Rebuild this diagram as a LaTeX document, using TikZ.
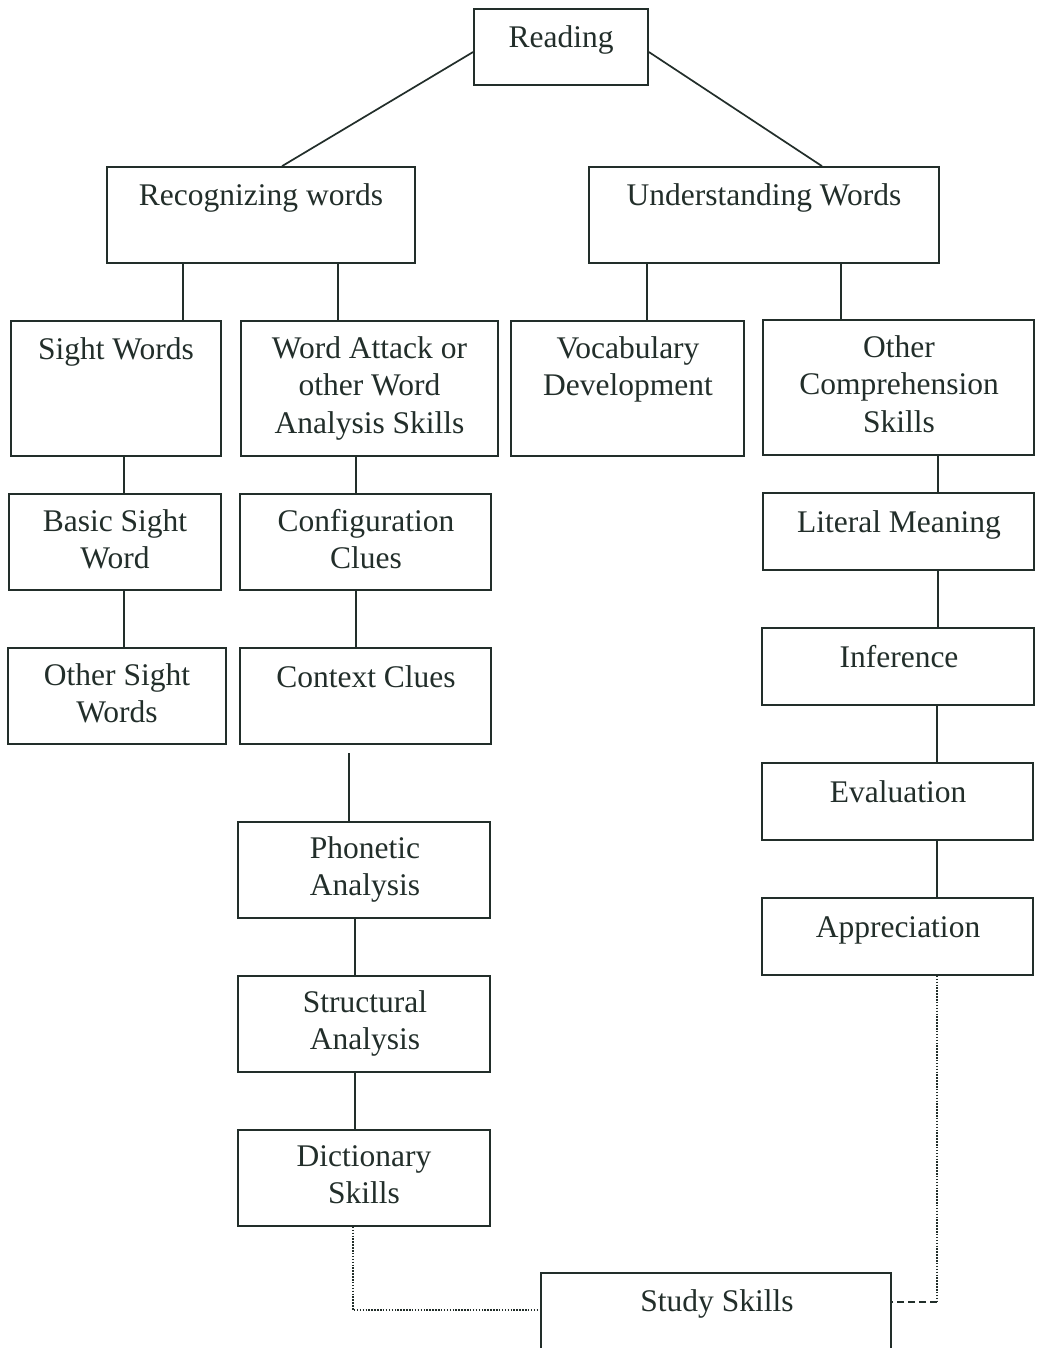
\documentclass[tikz,border=0pt]{standalone}
\usepackage{fontspec}
\setmainfont{Liberation Serif}
\newcommand\lblfont{\fontsize{31.5}{37.5}\selectfont}
\definecolor{ink}{HTML}{222E2A}
\begin{document}
\begin{tikzpicture}[x=1pt,y=-1pt,
  box/.style={draw=ink, line width=1.7pt, rectangle, inner sep=0pt},
  lbl/.style={anchor=north, inner sep=0pt, align=center, font=\lblfont, text=ink},
  conn/.style={draw=ink, line width=1.7pt},
  dotconn/.style={draw=ink, line width=1.6pt, dash pattern=on 1.5pt off 1.4pt},
  dashconn/.style={draw=ink, line width=1.7pt, dash pattern=on 7pt off 4pt}]
\useasboundingbox (0,0) rectangle (1037,1348);
\fill[white] (0,0) rectangle (1037,1348);

% boxes
\node[box, minimum width=174, minimum height=76] (read) at (561,47) {};
\node[box, minimum width=308, minimum height=96] (recw) at (261,215) {};
\node[box, minimum width=350, minimum height=96] (undw) at (764,215) {};
\node[box, minimum width=210, minimum height=135] (sight) at (116,388.5) {};
\node[box, minimum width=257, minimum height=135] (attack) at (369.5,388.5) {};
\node[box, minimum width=233, minimum height=135] (vocab) at (627.5,388.5) {};
\node[box, minimum width=271, minimum height=135] (ocomp) at (898.5,387.5) {};
\node[box, minimum width=212, minimum height=96] (basic) at (115,542) {};
\node[box, minimum width=251, minimum height=96] (config) at (365.5,542) {};
\node[box, minimum width=271, minimum height=77] (literal) at (898.5,531.5) {};
\node[box, minimum width=218, minimum height=96] (osight) at (117,696) {};
\node[box, minimum width=251, minimum height=96] (context) at (365.5,696) {};
\node[box, minimum width=272, minimum height=77] (infer) at (898,666.5) {};
\node[box, minimum width=271, minimum height=77] (eval) at (897.5,801.5) {};
\node[box, minimum width=252, minimum height=96] (phon) at (364,870) {};
\node[box, minimum width=271, minimum height=77] (appr) at (897.5,936.5) {};
\node[box, minimum width=252, minimum height=96] (struct) at (364,1024) {};
\node[box, minimum width=252, minimum height=96] (dict) at (364,1178) {};
\node[box, minimum width=350, minimum height=80] (study) at (716,1313) {};

% labels (north = first baseline - 26.25)
\node[lbl] (read-t) at (561,20.75) {\strut Reading};
\node[lbl] (recw-t) at (261,178.75) {\strut Recognizing words};
\node[lbl] (undw-t) at (764,178.75) {\strut Understanding Words};
\node[lbl] (sight-t) at (116,332.75) {\strut Sight Words};
\node[lbl] (attack-t) at (369.5,331.75) {\strut Word Attack or\\other Word\\Analysis Skills};
\node[lbl] (vocab-t) at (628,331.75) {\strut Vocabulary\\Development};
\node[lbl] (ocomp-t) at (899,330.75) {\strut Other\\Comprehension\\Skills};
\node[lbl] (basic-t) at (115,504.75) {\strut Basic Sight\\Word};
\node[lbl] (config-t) at (366,504.75) {\strut Configuration\\Clues};
\node[lbl] (literal-t) at (899,505.75) {\strut Literal Meaning};
\node[lbl] (osight-t) at (117,658.75) {\strut Other Sight\\Words};
\node[lbl] (context-t) at (366,660.75) {\strut Context Clues};
\node[lbl] (infer-t) at (899,640.75) {\strut Inference};
\node[lbl] (eval-t) at (898,775.75) {\strut Evaluation};
\node[lbl] (phon-t) at (365,831.75) {\strut Phonetic\\Analysis};
\node[lbl] (appr-t) at (898,910.75) {\strut Appreciation};
\node[lbl] (struct-t) at (365,985.75) {\strut Structural\\Analysis};
\node[lbl] (dict-t) at (364,1139.75) {\strut Dictionary\\Skills};
\node[lbl] (study-t) at (717,1284.75) {\strut Study Skills};

% x positions for vertical connectors
\coordinate (xa) at (183,0);
\coordinate (xb) at (338,0);
\coordinate (xc) at (647,0);
\coordinate (xd) at (841,0);
\coordinate (xe) at (124,0);
\coordinate (xf) at (356,0);
\coordinate (xg) at (355,0);
\coordinate (xh) at (938,0);
\coordinate (xi) at (937,0);
\coordinate (xj) at (353,0);
\coordinate (ctxstart) at (349,753);
\coordinate (cornA) at (937,1302);
\coordinate (cornD) at (353,1310);

% connectors
\draw[conn] ([yshift=-5pt]read.west) -- ([xshift=21pt]recw.north);
\draw[conn] ([yshift=-5pt]read.east) -- ([xshift=58pt]undw.north);
\draw[conn] (recw.south -| xa) -- (sight.north -| xa);
\draw[conn] (recw.south -| xb) -- (attack.north -| xb);
\draw[conn] (undw.south -| xc) -- (vocab.north -| xc);
\draw[conn] (undw.south -| xd) -- (ocomp.north -| xd);
\draw[conn] (sight.south -| xe) -- (basic.north -| xe);
\draw[conn] (basic.south -| xe) -- (osight.north -| xe);
\draw[conn] (attack.south -| xf) -- (config.north -| xf);
\draw[conn] (config.south -| xf) -- (context.north -| xf);
\draw[conn] (ctxstart) -- (phon.north -| ctxstart);
\draw[conn] (phon.south -| xg) -- (struct.north -| xg);
\draw[conn] (struct.south -| xg) -- (dict.north -| xg);
\draw[conn] (ocomp.south -| xh) -- (literal.north -| xh);
\draw[conn] (literal.south -| xh) -- (infer.north -| xh);
\draw[conn] (infer.south -| xi) -- (eval.north -| xi);
\draw[conn] (eval.south -| xi) -- (appr.north -| xi);
\draw[dotconn] (appr.south -| xi) -- (cornA);
\draw[dashconn] (cornA) -- (study.east |- cornA);
\draw[dotconn] (dict.south -| xj) -- (cornD) -- (study.west |- cornD);
\end{tikzpicture}
\end{document}
